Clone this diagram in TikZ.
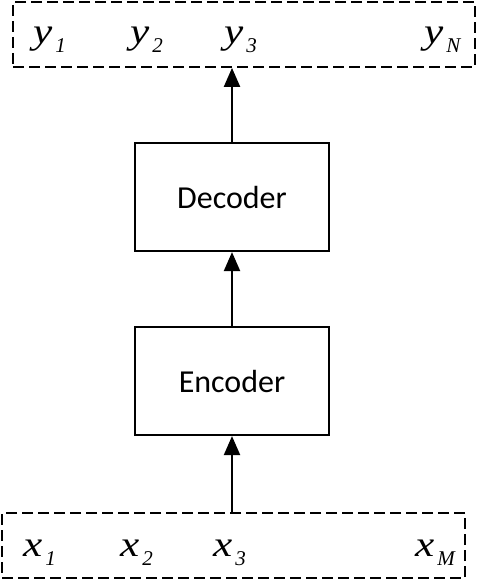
\documentclass[tikz,border=0pt]{standalone}
\usepackage{fontspec}
\setmainfont{Liberation Serif}
\newfontfamily\boxfont{Carlito}
\usetikzlibrary{arrows.meta}
\newcommand{\vsym}[2]{\scalebox{1.2}[1]{\fontsize{36}{36}\selectfont\itshape #1}\hspace{3pt}{\fontsize{21}{21}\selectfont\itshape\raisebox{-9pt}{#2}}}
\tikzset{
  blk/.style={draw, line width=2.2pt, minimum width=194pt, minimum height=108pt, inner sep=0pt, font=\boxfont\fontsize{32}{32}\selectfont},
  seqbox/.style={draw, line width=1.8pt, dash pattern=on 11pt off 5pt},
  lab/.style={anchor=base west, inner sep=0pt},
  arr/.style={line width=2.2pt, -{Triangle[width=16pt,length=19pt]}}
}
\begin{document}
\begin{tikzpicture}[x=1pt,y=-1pt]
\useasboundingbox (0,0) rectangle (478,580);
\node[seqbox, minimum width=462pt, minimum height=65pt, inner sep=0pt] (top) at (244,34.5) {};
\node[seqbox, minimum width=463pt, minimum height=65pt, inner sep=0pt] (bot) at (233.5,545.5) {};
\node[blk] (dec) at (232,197) {Decoder};
\node[blk] (enc) at (232,381) {Encoder};
\node[lab] (y1) at (33,44) {\vsym{y}{1}};
\node[lab] (y2) at (130,44) {\vsym{y}{2}};
\node[lab] (y3) at (224,44) {\vsym{y}{3}};
\node[lab] (yN) at (424,44) {\vsym{y}{N}};
\node[lab] (x1) at (23,556) {\vsym{x}{1}};
\node[lab] (x2) at (120,556) {\vsym{x}{2}};
\node[lab] (x3) at (213,556) {\vsym{x}{3}};
\node[lab] (xM) at (415,556) {\vsym{x}{M}};
\draw[arr] (bot.north -| enc.south) -- (enc.south);
\draw[arr] (enc.north) -- (dec.south);
\draw[arr] (dec.north) -- (top.south -| dec.north);
\end{tikzpicture}
\end{document}
